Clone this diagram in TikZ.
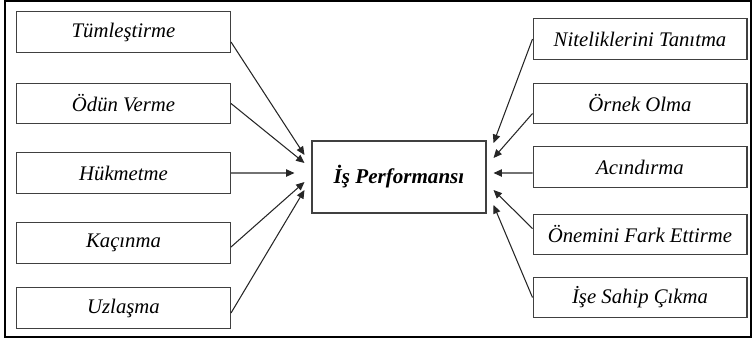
\documentclass[tikz,border=0pt]{standalone}
\usepackage{fontspec}
\setmainfont{Liberation Serif}
\usetikzlibrary{arrows.meta}

\begin{document}
\begin{tikzpicture}[x=0.02cm, y=-0.02cm,
    every node/.style={align=center, font=\fontsize{11.8}{14}\selectfont\itshape},
    kutu/.style={draw=black!75, line width=0.6pt, minimum width=4.28cm, minimum height=0.81cm, inner sep=0pt},
    ok/.style={-{Triangle[length=4.8pt, width=4.2pt]}, line width=0.6pt, black!85}]
    \useasboundingbox (0,0) rectangle (753,342);
    \draw[line width=1.2pt] (5,1) rectangle (751,337);

    % merkez
    \node[draw=black!75, line width=0.6pt, minimum width=3.48cm, minimum height=1.44cm, font=\fontsize{12}{14}\selectfont\bfseries\itshape] (perf) at (399,177) {İş Performansı};

    % sol sutun
    \node[kutu] (tum) at (123.5,32) {Tümleştirme};
    \node[kutu] (odun) at (123.5,103.5) {Ödün Verme};
    \node[kutu] (hukm) at (123.5,173) {Hükmetme};
    \node[kutu] (kac) at (123.5,243) {Kaçınma};
    \node[kutu] (uzl) at (123.5,308) {Uzlaşma};

    % sag sutun
    \node[kutu] (nit) at (640,39) {Niteliklerini Tanıtma};
    \node[kutu] (orn) at (640,103.5) {Örnek Olma};
    \node[kutu] (aci) at (640,167) {Acındırma};
    \node[kutu] (onem) at (640,234.5) {Önemini Fark Ettirme};
    \node[kutu] (ise) at (640,297.5) {İşe Sahip Çıkma};

    \draw[ok] ([yshift=-0.2cm]tum.east) -- ([xshift=-0.14cm, yshift=0.44cm]perf.west);
    \draw[ok] (odun.east) -- ([xshift=-0.14cm, yshift=0.28cm]perf.west);
    \draw[ok] (hukm.east) -- ([xshift=-0.34cm, yshift=0.08cm]perf.west);
    \draw[ok] ([yshift=-0.08cm]kac.east) -- ([xshift=-0.14cm, yshift=-0.1cm]perf.west);
    \draw[ok] ([yshift=-0.1cm]uzl.east) -- ([xshift=-0.14cm, yshift=-0.26cm]perf.west);

    \draw[ok] (nit.west) -- ([xshift=0.14cm, yshift=0.68cm]perf.east);
    \draw[ok] ([yshift=-0.2cm]orn.west) -- ([xshift=0.14cm, yshift=0.38cm]perf.east);
    \draw[ok] ([yshift=-0.12cm]aci.west) -- ([xshift=0.14cm, yshift=0.08cm]perf.east);
    \draw[ok] ([yshift=0.12cm]onem.west) -- ([xshift=0.14cm, yshift=-0.26cm]perf.east);
    \draw[ok] (ise.west) -- ([xshift=0.14cm, yshift=-0.56cm]perf.east);
\end{tikzpicture}
\end{document}
